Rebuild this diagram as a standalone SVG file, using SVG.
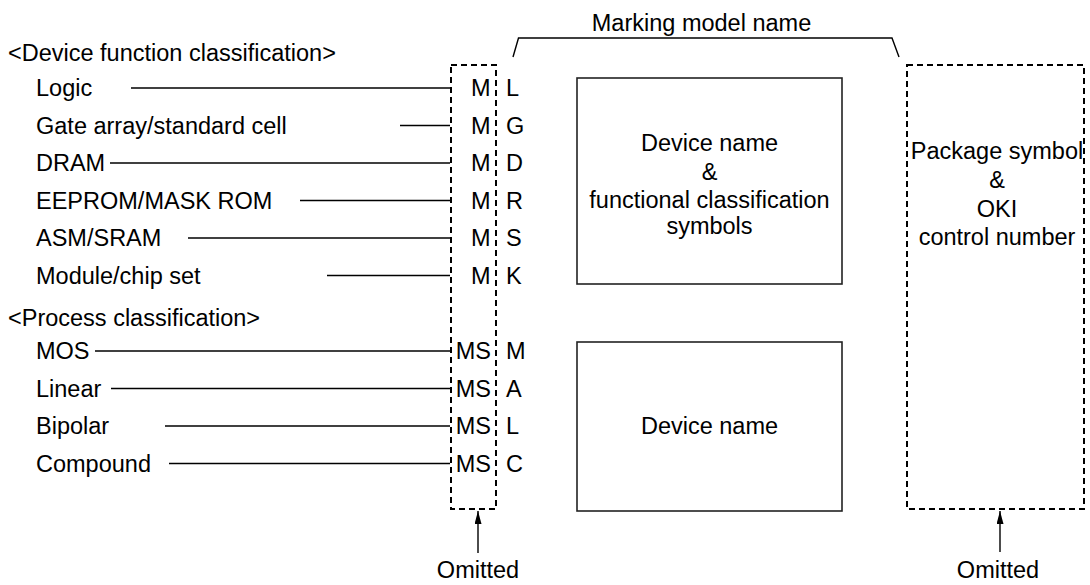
<svg xmlns="http://www.w3.org/2000/svg" width="1090" height="585" viewBox="0 0 1090 585">
<defs>
<style>
text{font-family:"Liberation Sans",Arial,Helvetica,sans-serif;font-size:23.5px;fill:#000}
.c{text-anchor:middle}
.e{text-anchor:end}
.ln{stroke:#000;stroke-width:1.4;fill:none}
.dash{stroke:#000;stroke-width:2;fill:none;stroke-dasharray:6,4}
.box{stroke:#222;stroke-width:1.6;fill:#fff}
</style>
<marker id="ah" markerWidth="13" markerHeight="7" refX="13" refY="3.5" orient="auto" markerUnits="userSpaceOnUse" viewBox="0 0 13 7">
<path d="M0,0 L13,3.5 L0,7 Z" fill="#000"/>
</marker>
</defs>
<rect width="1090" height="585" fill="#fff"/>

<g id="device-function-labels">
<text x="8" y="61">&lt;Device function classification&gt;</text>
<text x="36" y="96">Logic</text>
<text x="36" y="133.5">Gate array/standard cell</text>
<text x="36" y="171">DRAM</text>
<text x="36" y="208.5">EEPROM/MASK ROM</text>
<text x="36" y="246">ASM/SRAM</text>
<text x="36" y="283.5">Module/chip set</text>
</g>

<g id="process-labels">
<text x="8" y="326">&lt;Process classification&gt;</text>
<text x="36" y="359">MOS</text>
<text x="36" y="396.5">Linear</text>
<text x="36" y="434">Bipolar</text>
<text x="36" y="471.5">Compound</text>
</g>

<g id="connectors">
<line class="ln" x1="131" y1="88" x2="450" y2="88"/>
<line class="ln" x1="400" y1="125.5" x2="450" y2="125.5"/>
<line class="ln" x1="110" y1="163" x2="450" y2="163"/>
<line class="ln" x1="300" y1="200.5" x2="450" y2="200.5"/>
<line class="ln" x1="188" y1="238" x2="450" y2="238"/>
<line class="ln" x1="327" y1="275.5" x2="450" y2="275.5"/>
<line class="ln" x1="95" y1="351" x2="450" y2="351"/>
<line class="ln" x1="111" y1="388.5" x2="450" y2="388.5"/>
<line class="ln" x1="165" y1="426" x2="450" y2="426"/>
<line class="ln" x1="169" y1="463.5" x2="450" y2="463.5"/>
<line class="ln" x1="478" y1="553" x2="478" y2="511" marker-end="url(#ah)"/>
<line class="ln" x1="1000" y1="552" x2="1000" y2="511" marker-end="url(#ah)"/>
<path class="ln" d="M513,57 L518.5,38 L892,38 L899,57" stroke-width="2"/>
</g>

<g id="omitted-prefix-box">
<rect class="dash" x="451" y="65" width="45" height="444"/>
<text class="e" x="490.5" y="96">M</text>
<text class="e" x="490.5" y="133.5">M</text>
<text class="e" x="490.5" y="171">M</text>
<text class="e" x="490.5" y="208.5">M</text>
<text class="e" x="490.5" y="246">M</text>
<text class="e" x="490.5" y="283.5">M</text>
<text class="e" x="491" y="359">MS</text>
<text class="e" x="491" y="396.5">MS</text>
<text class="e" x="491" y="434">MS</text>
<text class="e" x="491" y="471.5">MS</text>
</g>

<g id="class-letters">
<text x="506" y="96">L</text>
<text x="506" y="133.5">G</text>
<text x="506" y="171">D</text>
<text x="506" y="208.5">R</text>
<text x="506" y="246">S</text>
<text x="506" y="283.5">K</text>
<text x="506" y="359">M</text>
<text x="506" y="396.5">A</text>
<text x="506" y="434">L</text>
<text x="506" y="471.5">C</text>
</g>

<g id="marking-model-name">
<text class="c" x="701.5" y="31">Marking model name</text>
</g>

<g id="device-name-functional-box">
<rect class="box" x="577" y="78" width="265" height="206"/>
<text class="c" x="709.5" y="151">Device name</text>
<text class="c" x="709.5" y="180">&amp;</text>
<text class="c" x="709.5" y="208">functional classification</text>
<text class="c" x="709.5" y="234">symbols</text>
</g>

<g id="device-name-box">
<rect class="box" x="577" y="342" width="265" height="169"/>
<text class="c" x="709.5" y="434">Device name</text>
</g>

<g id="package-box">
<rect class="dash" x="907" y="65" width="177" height="444"/>
<text class="c" x="997" y="159">Package symbol</text>
<text class="c" x="997" y="188">&amp;</text>
<text class="c" x="997" y="217">OKI</text>
<text class="c" x="997" y="245">control number</text>
</g>

<g id="omitted-labels">
<text class="c" x="478" y="578">Omitted</text>
<text class="c" x="998" y="578">Omitted</text>
</g>
</svg>
